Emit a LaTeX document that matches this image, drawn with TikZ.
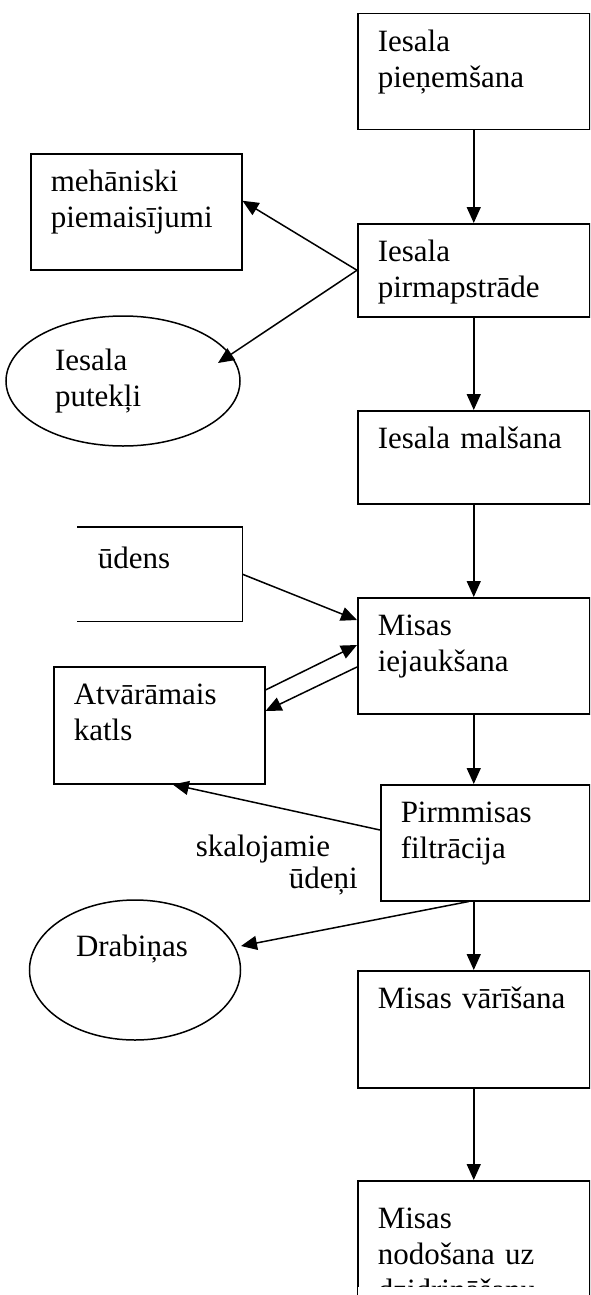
\documentclass[tikz,border=0pt]{standalone}
\usepackage{fontspec}
\setmainfont{Liberation Serif}
\usetikzlibrary{arrows.meta, shapes.geometric}

\tikzset{
    kasten/.style 2 args={draw, rectangle, anchor=north west, align=left,
        inner xsep=20pt, inner ysep=0pt, text width=#1-40pt,
        text height=38pt, text depth=#2-38pt},
    oval/.style={draw, ellipse, inner sep=0pt, align=left}
}

\begin{document}
\begin{tikzpicture}[x=1pt, y=-1pt, line width=1.5pt,
    >={Triangle[length=16pt, width=14pt]},
    font=\fontsize{31}{36}\selectfont]
    \useasboundingbox (0,0) rectangle (590,1295);
    \clip (0,0) rectangle (590,1295);

    % Kaesten rechts.
    \node[kasten={232pt}{116pt}] (b1) at (357,13)   {Iesala\\pieņemšana};
    \node[kasten={232pt}{93pt}]  (b2) at (357,223)  {Iesala\\pirmapstrāde};
    \node[kasten={232pt}{93pt}]  (b3) at (357,410)  {Iesala malšana};
    \node[kasten={232pt}{116pt}] (b4) at (357,597)  {Misas\\iejaukšana};
    \node[kasten={209pt}{116pt}] (b5) at (380,784)  {Pirmmisas\\filtrācija};
    \node[kasten={232pt}{117pt}] (b6) at (357,970)  {Misas vārīšana};
    \node[kasten={232pt}{140pt}, text height=48pt, text depth=92pt] (b7) at (357,1180)
        {Misas\\nodošana uz\\dzidrināšanu};
    \fill[white] (358,1287) rectangle (588,1296);

    % Links.
    \node[kasten={211pt}{116pt}] (meh) at (30,153)  {mehāniski\\piemaisījumi};
    \node[kasten={164pt}{93pt}, draw=none, text height=41pt, text depth=52pt] (udens) at (77,527) {ūdens};
    \draw (udens.north west) -- (udens.north east) -- (udens.south east) -- (udens.south west);
    \node[kasten={211pt}{117pt}] (atv) at (53,666)  {Atvārāmais\\katls};
    \node[oval, minimum width=234pt, minimum height=130pt, text width=136pt] (put) at (123,381)
        {Iesala\\putekļi};
    \node[oval, minimum width=211pt, minimum height=140pt, text width=118pt,
        text height=22pt, text depth=50pt] (drab) at (135,970) {Drabiņas};

    % Beschriftung.
    \node[anchor=base west, inner sep=0pt] (skal) at (195,856) {skalojamie};
    \node[anchor=base west, inner sep=0pt] (udeni) at (288,888) {ūdeņi};

    % Pfeile.
    \draw[->] (b1.south) -- (b2.north);
    \draw[->] (b2.west) -- ([yshift=11pt]meh.east);
    \draw[->] (b2.west) -- ([shift={(95,-18)}]put.center);
    \draw[->] (b2.south) -- (b3.north);
    \draw[->] (b3.south) -- (b4.north);
    \draw[->] (udens.east) -- ([yshift=-23pt]b4.north west);
    \draw[->] ([yshift=-24pt]atv.north east) -- ([yshift=-48pt]b4.north west);
    \draw[->] ([yshift=-70pt]b4.north west) -- ([yshift=-45pt]atv.north east);
    \draw[->] (b4.south) -- (b4.south |- b5.north);
    \draw[->] ([yshift=-46pt]b5.north west) -- ([xshift=13.5pt]atv.south);
    \draw[->] ([xshift=-5pt]b6.north |- b5.south) -- ([shift={(106,-24)}]drab.center);
    \draw[->] (b6.north |- b5.south) -- (b6.north);
    \draw[->] (b6.south) -- (b7.north);
\end{tikzpicture}
\end{document}
